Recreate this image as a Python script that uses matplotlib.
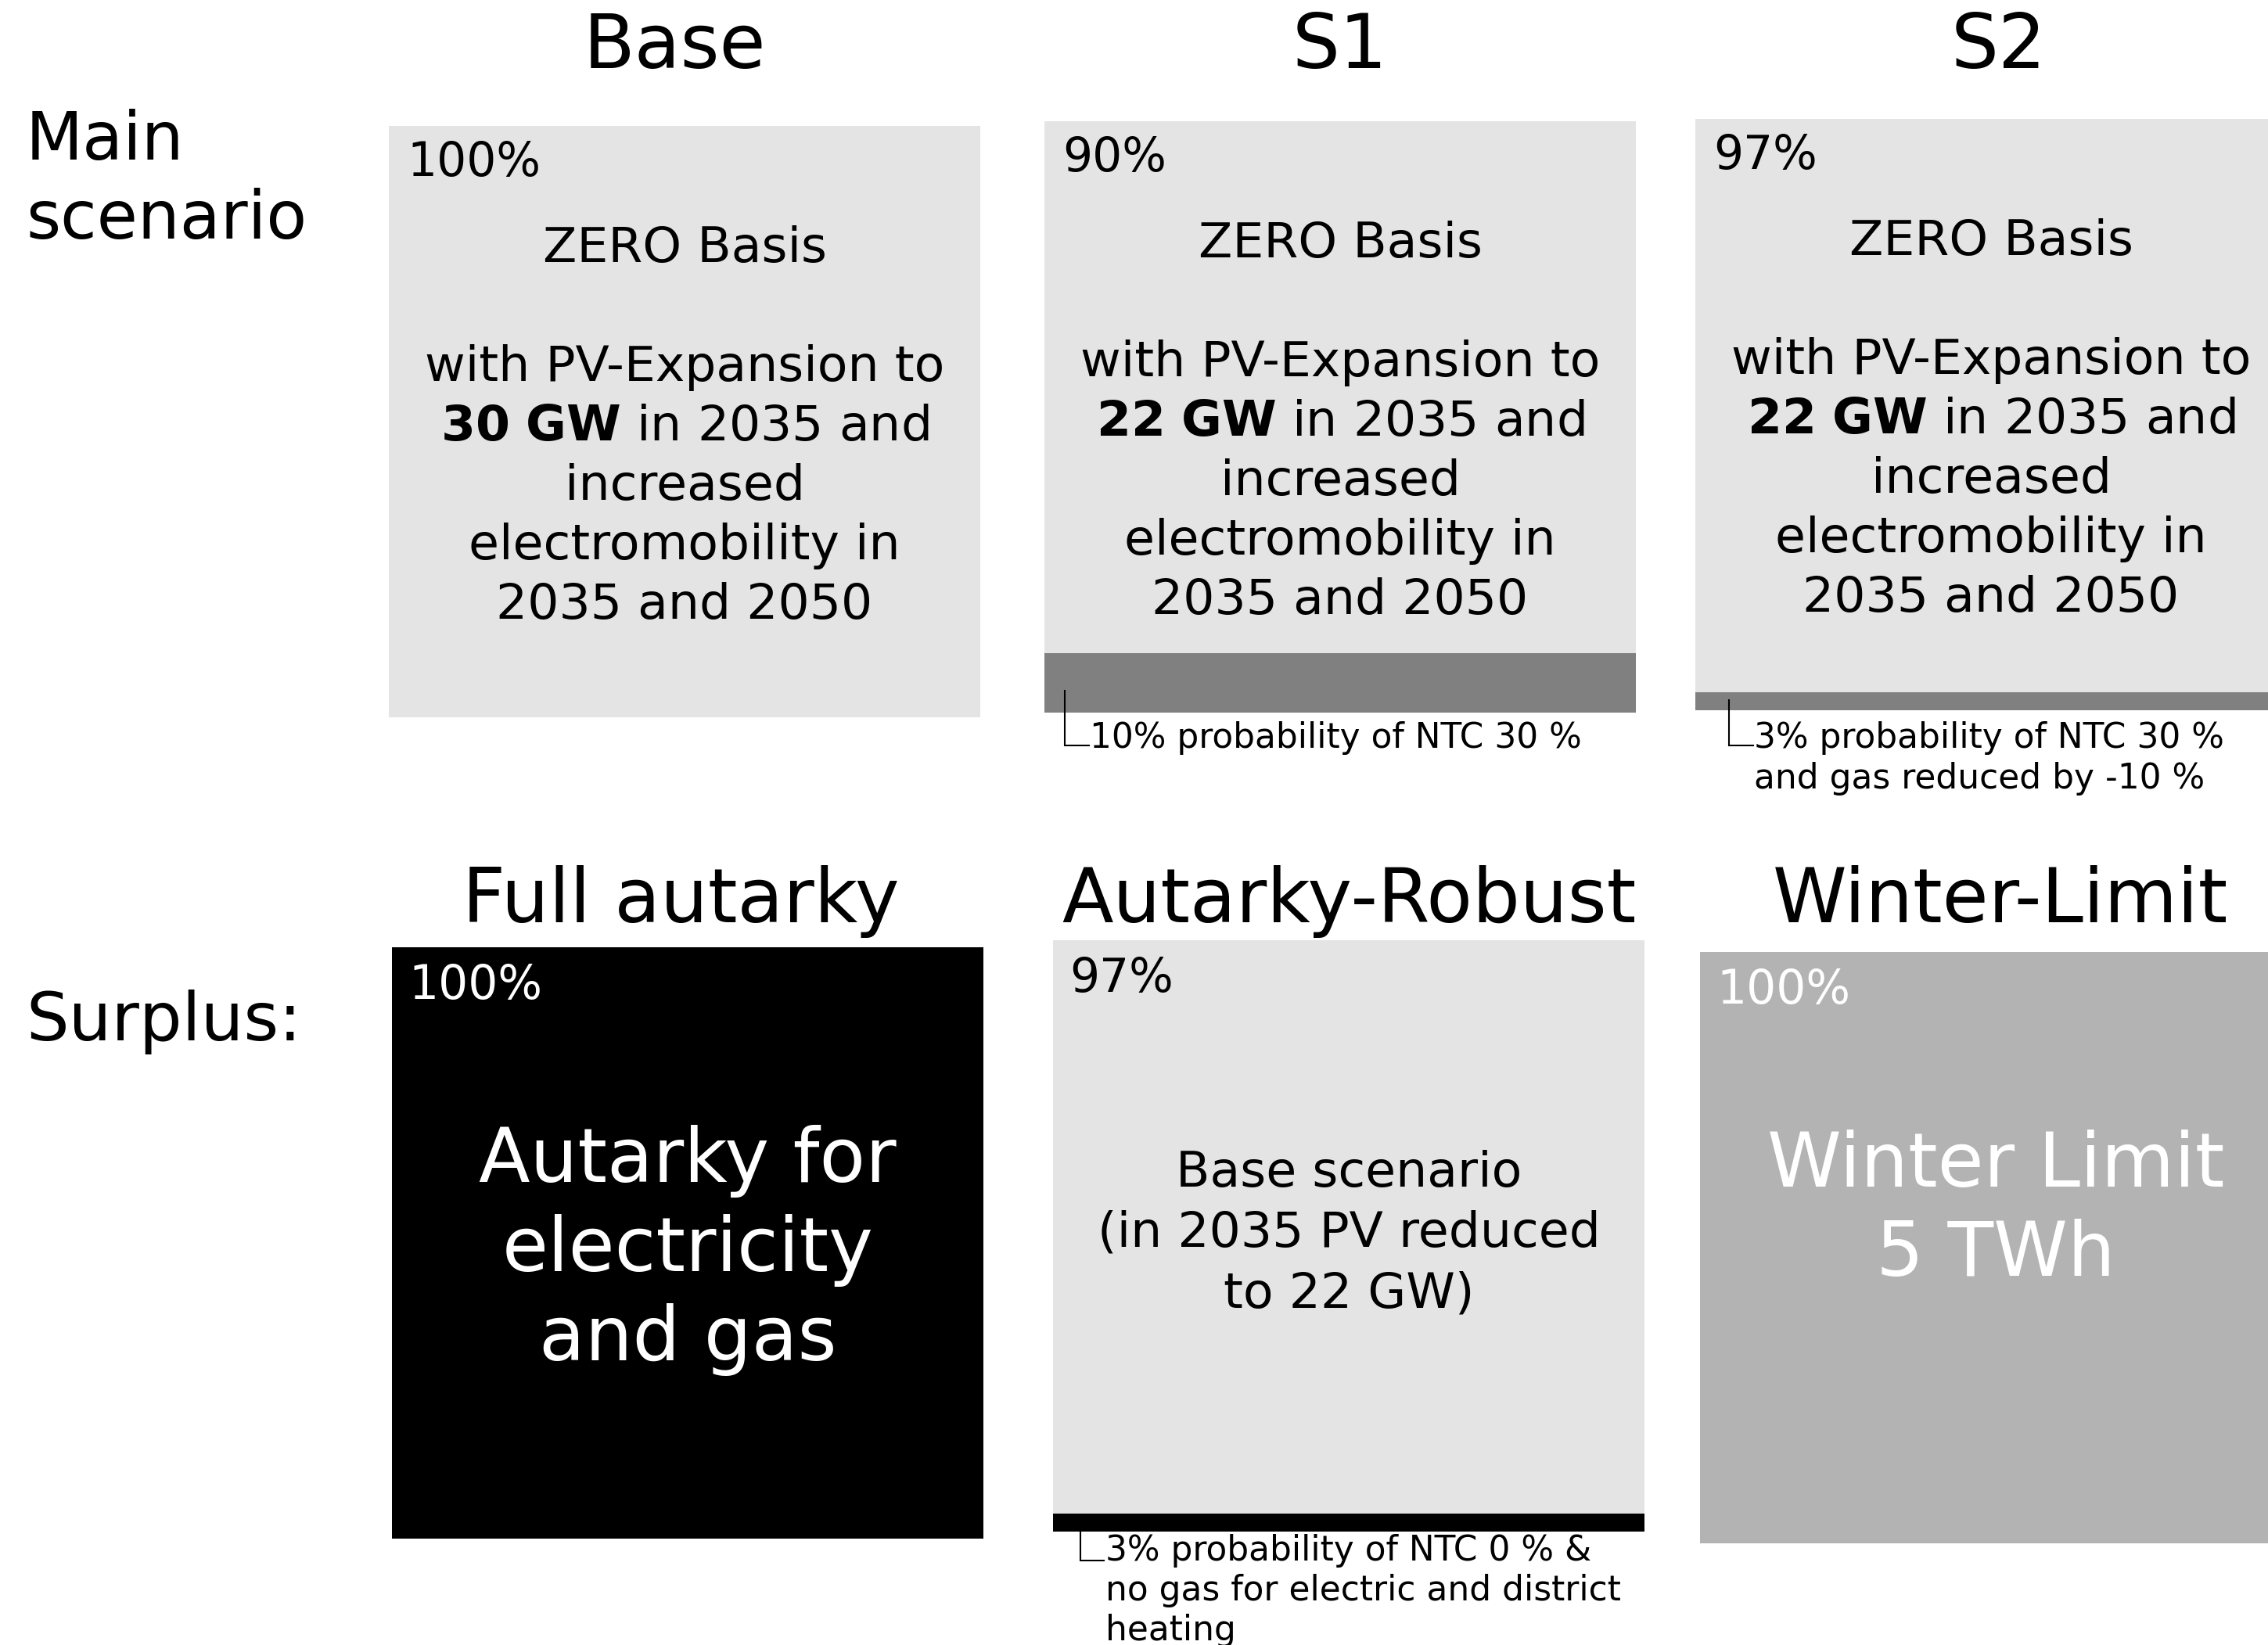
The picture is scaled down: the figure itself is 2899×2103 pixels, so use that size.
import matplotlib
matplotlib.use("Agg")
import matplotlib.pyplot as plt

# Scenario data (probabilities in %)
main_names = ["Base", "S1", "S2"]
main_prob = [100, 90, 97]
main_pv = ["30", "22", "22"]

surplus_names = ["Full autarky", "Autarky-Robust", "Winter-Limit"]
surplus_prob = [100, 97, 100]

main_notes = ["", "10% probability of NTC 30 %",
              "3% probability of NTC 30 %\nand gas reduced by -10 %"]
surplus_notes = ["", "3% probability of NTC 0 % &\nno gas for electric and district\nheating", ""]
surplus_text = ["Autarky for\nelectricity\nand gas", "Base scenario\n(in 2035 PV reduced\nto 22 GW)",
                "Winter Limit\n5 TWh"]

# Layout in pixel coordinates (figure is 2899 x 2103 px)
W, H = 2899, 2103
box_w, box_h = 756, 756
main_left = [497, 1335, 2167]
main_top = [161, 155, 152]
surplus_left = [501, 1346, 2173]
surplus_top = [1211, 1202, 1217]

light, dark = "#e4e4e4", "#808080"
surplus_color = ["black", light, "#b3b3b3"]
surplus_rest = ["black", "black", "black"]
surplus_txtcol = ["white", "black", "white"]

fig = plt.figure(figsize=(W / 100, H / 100), dpi=100)
ax = fig.add_axes([0, 0, 1, 1])
ax.set_xlim(0, W)
ax.set_ylim(H, 0)
ax.axis("off")

title_fs = 69
body_fs = 45.5
pct_fs = 43
big_fs = 69
note_fs = 31.6

# row labels
ax.text(33, 204, "Main", fontsize=61, va="baseline")
ax.text(33, 305, "scenario", fontsize=61, va="baseline")
ax.text(33, 1330, "Surplus:", fontsize=62, va="baseline")


def bracket(x, y0, y1, x1):
    ax.plot([x, x, x1], [y0, y1, y1], color="black", lw=1.5, solid_joinstyle="miter")


# main scenario row
title_x = [862, 1713, 2555]
for i, name in enumerate(main_names):
    left, top = main_left[i], main_top[i]
    p = main_prob[i] / 100
    ax.bar(left, box_h * p, width=box_w, bottom=top, align="edge", color=light, lw=0)
    if p < 1:
        ax.bar(left, box_h * (1 - p), width=box_w, bottom=top + box_h * p,
               align="edge", color=dark, lw=0)
    ax.text(title_x[i], 87, name, fontsize=title_fs, ha="center", va="baseline")
    ax.text(left + 23, top + 64, f"{main_prob[i]}%", fontsize=pct_fs, va="baseline")
    cx = left + box_w / 2
    lines = ["ZERO Basis", "", "with PV-Expansion to",
             r"$\mathbf{" + main_pv[i] + r"\ GW}$ in 2035 and",
             "increased", "electromobility in", "2035 and 2050"]
    for k, line in enumerate(lines):
        if line:
            ax.text(cx, top + 174 + 76 * k, line, fontsize=body_fs, ha="center", va="baseline")
    if main_notes[i]:
        bx = left + (26 if i == 1 else 43)
        bracket(bx, top + box_h * p + 48 - (0 if i == 1 else 38), 953, bx + 31)
        for k, line in enumerate(main_notes[i].split("\n")):
            ax.text(bx + 32, 956 + 52 * k, line, fontsize=note_fs, va="baseline")

# surplus row
stitle_x = [870, 1724, 2557]
for i, name in enumerate(surplus_names):
    left, top = surplus_left[i], surplus_top[i]
    p = surplus_prob[i] / 100
    ax.bar(left, box_h * p, width=box_w, bottom=top, align="edge", color=surplus_color[i], lw=0)
    if p < 1:
        ax.bar(left, box_h * (1 - p), width=box_w, bottom=top + box_h * p,
               align="edge", color=surplus_rest[i], lw=0)
    ax.text(stitle_x[i], 1179, name, fontsize=title_fs, ha="center", va="baseline")
    ax.text(left + 21, top + 66, f"{surplus_prob[i]}%", fontsize=pct_fs,
            va="baseline", color=surplus_txtcol[i])
    cx = left + box_w / 2
    if i == 1:
        for k, line in enumerate(surplus_text[i].split("\n")):
            ax.text(cx, top + 315 + 77 * k, line, fontsize=body_fs, ha="center", va="baseline")
    else:
        for k, line in enumerate(surplus_text[i].split("\n")):
            ax.text(cx, top + 300 + 114 * k, line, fontsize=big_fs, ha="center",
                    va="baseline", color="white")
    if surplus_notes[i]:
        bx = left + 35
        bracket(bx, top + box_h, 1995, bx + 30)
        for k, line in enumerate(surplus_notes[i].split("\n")):
            ax.text(bx + 32, 1995 + 51 * k, line, fontsize=note_fs, va="baseline")

fig.savefig("out.png", dpi=100, facecolor="white")
